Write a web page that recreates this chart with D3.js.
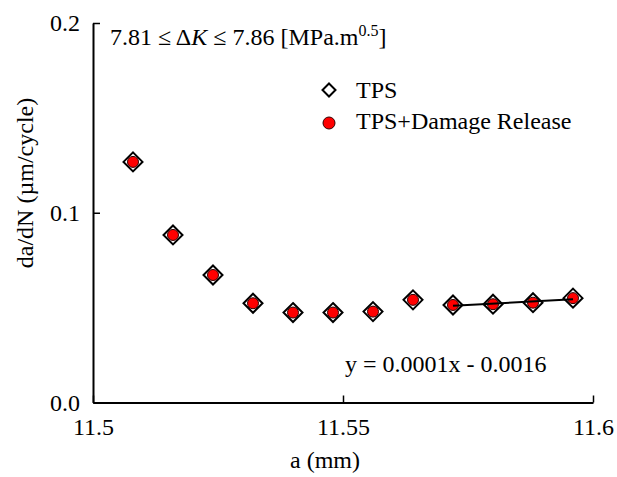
<!DOCTYPE html>
<html>
<head>
<meta charset="utf-8">
<script src="https://cdn.jsdelivr.net/npm/d3@7"></script>
<style>
  body { margin: 0; background: #fff; }
  text { font-family: "Liberation Serif", "Times New Roman", Times, serif; fill: #000; }
</style>
</head>
<body>
<script>
// crack length a (mm) and growth rate da/dN (um/cycle)
const crackLength = [11.508, 11.516, 11.524, 11.532, 11.540, 11.548, 11.556, 11.564, 11.572, 11.580, 11.588, 11.596];
const tpsRate = [0.1268, 0.0883, 0.0672, 0.0523, 0.0474, 0.0474, 0.0479, 0.0541, 0.0514, 0.0518, 0.0526, 0.0550];
const damageRate = [0.1268, 0.0883, 0.0672, 0.0523, 0.0474, 0.0474, 0.0479, 0.0541, 0.0514, 0.0518, 0.0526, 0.0550];
const trendIndex = [8, 9, 10, 11];
const xTicks = [11.5, 11.55, 11.6];
const yTicks = [0, 0.1, 0.2];
const legendLabels = ["TPS", "TPS+Damage Release"];

const width = 617, height = 477;
const margin = { top: 23, right: 24, bottom: 74.5, left: 93 };

const svg = d3.select('body').append('svg')
    .attr('width', width)
    .attr('height', height);

const x = d3.scaleLinear()
    .domain([11.5, 11.6])
    .range([margin.left, width - margin.right]);

const y = d3.scaleLinear()
    .domain([0, 0.2])
    .range([height - margin.bottom, margin.top]);

// Axes (ticks pointing inward)
const xAxis = svg.append('g')
    .attr('transform', `translate(0,${height - margin.bottom})`)
    .call(d3.axisBottom(x).tickValues(xTicks).tickFormat(d => d)
        .tickSizeInner(-7).tickSizeOuter(0).tickPadding(15));

const yAxis = svg.append('g')
    .attr('transform', `translate(${margin.left},0)`)
    .call(d3.axisLeft(y).tickValues(yTicks).tickFormat(d3.format('.1f'))
        .tickSizeInner(-7).tickSizeOuter(0).tickPadding(13));

[xAxis, yAxis].forEach(g => {
    g.attr('font-family', null);
    g.select('.domain').attr('stroke', '#000').attr('stroke-width', 2);
    g.selectAll('.tick line').attr('stroke', '#000').attr('stroke-width', 1.5);
    g.selectAll('.tick text')
        .style('font-size', '24px')
        .attr('fill', '#000');
});

// Axis titles
svg.append('text')
    .attr('x', 325)
    .attr('y', 468)
    .attr('text-anchor', 'middle')
    .style('font-size', '24px')
    .text('a (mm)');

svg.append('text')
    .attr('transform', 'rotate(-90)')
    .attr('x', -183)
    .attr('y', 25)
    .attr('dy', '0.35em')
    .attr('text-anchor', 'middle')
    .style('font-size', '24px')
    .text('da/dN (\u00b5m/cycle)');

// Stress intensity range note
const note = svg.append('text')
    .attr('x', 110)
    .attr('y', 45)
    .style('font-size', '24px');
note.append('tspan').text('7.81 \u2264 \u0394');
note.append('tspan').style('font-style', 'italic').text('K');
note.append('tspan').text(' \u2264 7.86 [MPa.m');
note.append('tspan').attr('dy', -9).style('font-size', '16px').text('0.5');
note.append('tspan').attr('dy', 9).text(']');

const diamond = s => `M0,${-s}L${s},0L0,${s}L${-s},0Z`;

// TPS diamonds
svg.append('g').selectAll('path')
    .data(crackLength)
    .join('path')
    .attr('transform', (d, i) => `translate(${x(d)},${y(tpsRate[i])})`)
    .attr('d', diamond(9.5))
    .attr('fill', '#fff')
    .attr('stroke', '#000')
    .attr('stroke-width', 2);

// TPS + damage release circles
svg.append('g').selectAll('circle')
    .data(crackLength)
    .join('circle')
    .attr('cx', d => x(d))
    .attr('cy', (d, i) => y(damageRate[i]))
    .attr('r', 5.5)
    .attr('fill', '#ff0000')
    .attr('stroke', '#300')
    .attr('stroke-width', 1);

// Linear trendline over the last four points
const tx = trendIndex.map(i => crackLength[i]);
const ty = trendIndex.map(i => damageRate[i]);
const mx = d3.mean(tx), my = d3.mean(ty);
const slope = d3.sum(tx, (v, i) => (v - mx) * (ty[i] - my)) / d3.sum(tx, v => (v - mx) ** 2);
const intercept = my - slope * mx;
const ends = [tx[0], tx[tx.length - 1]];

svg.append('path')
    .datum(ends)
    .attr('fill', 'none')
    .attr('stroke', '#000')
    .attr('stroke-width', 2)
    .attr('d', d3.line().x(d => x(d)).y(d => y(slope * d + intercept)));

svg.append('text')
    .attr('x', 345)
    .attr('y', 372)
    .style('font-size', '24px')
    .text('y = 0.0001x - 0.0016');

// Legend
const legend = svg.append('g');
legend.append('path')
    .attr('transform', 'translate(329,90)')
    .attr('d', diamond(6.5))
    .attr('fill', '#fff')
    .attr('stroke', '#000')
    .attr('stroke-width', 2);
legend.append('circle')
    .attr('cx', 329).attr('cy', 123)
    .attr('r', 6)
    .attr('fill', '#ff0000')
    .attr('stroke', '#300')
    .attr('stroke-width', 1);
legend.selectAll('text')
    .data(legendLabels)
    .join('text')
    .attr('x', 356)
    .attr('y', (d, i) => 98 + i * 31)
    .style('font-size', '24px')
    .text(d => d);
</script>
</body>
</html>
